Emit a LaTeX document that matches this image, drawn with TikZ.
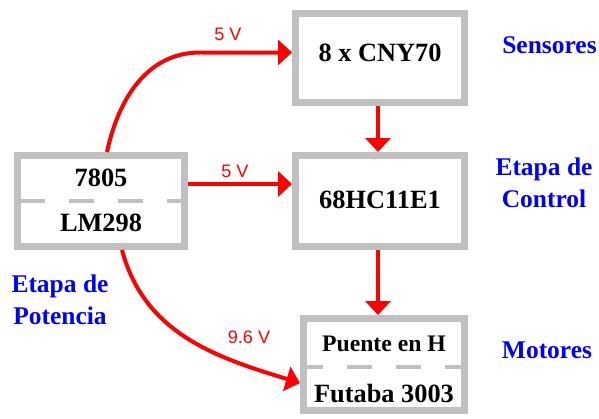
\documentclass[tikz,border=0pt]{standalone}
\usepackage{fontspec}
\setmainfont{Liberation Serif}
\setsansfont{Liberation Sans}
\usepackage{tikz}
\usetikzlibrary{arrows.meta}
\definecolor{boxgray}{RGB}{192,192,192}
\definecolor{labelblue}{RGB}{0,0,255}

\begin{document}
\begin{tikzpicture}[x=0.02cm,y=-0.02cm,
    block/.style={draw=boxgray,line width=0.14cm,fill=white,inner sep=0pt},
    divider/.style={boxgray,line width=0.08cm,dash pattern=on 0.5cm off 0.48cm},
    part/.style={font=\bfseries\fontsize{15}{17}\selectfont},
    stage/.style={text=labelblue,font=\bfseries\fontsize{14.5}{18.5}\selectfont,align=center},
    volt/.style={text=red,font=\sffamily\fontsize{10.3}{12}\selectfont},
    supply/.style={-{Triangle[length=0.28cm,width=0.5cm]},red,line width=0.08cm}]
    \useasboundingbox (0,0) rectangle (599,419);

    % bloques
    \node[block,minimum width=3.38cm,minimum height=1.78cm] (sens) at (380,58) {};
    \node[block,minimum width=3.38cm,minimum height=1.82cm] (ctrl) at (380,201) {};
    \node[block,minimum width=3.22cm,minimum height=1.84cm] (mot) at (384,364.5) {};
    \node[block,minimum width=3.34cm,minimum height=1.82cm] (pot) at (101,201) {};

    \draw [divider,dash phase=0.86cm] (pot.west |- 0,201) -- (pot.east |- 0,201);
    \draw [divider,dash phase=0.04cm] (mot.west |- 0,367) -- (mot.east |- 0,367);

    \node[part] (cny) at (380,52.5) {8 x CNY70};
    \node[part] (hc11) at (380,200) {68HC11E1};
    \node[part] (reg) at (101,178) {7805};
    \node[part] (lm) at (101,223) {LM298};
    \node[part,font=\bfseries\fontsize{13.5}{15}\selectfont] (puente) at (384,344) {Puente en H};
    \node[part] (futaba) at (384,393.5) {Futaba 3003};

    \node[stage] (lsens) at (549.5,45) {Sensores};
    \node[stage] (lctrl) at (544,183) {Etapa de\\Control};
    \node[stage] (lmot) at (547,350) {Motores};
    \node[stage] (lpot) at (60,300) {Etapa de\\Potencia};

    % flechas
    \draw [supply] ([xshift=0.12cm]pot.north) to[out=78,in=180] (200,52.5) -- ([yshift=0.11cm]sens.west);
    \draw [supply] ([yshift=0.34cm]pot.east) -- ([yshift=0.34cm]ctrl.west);
    \draw [supply] ([xshift=0.42cm]pot.south) to[out=-75,in=163] ([yshift=-0.37cm]mot.west);
    \draw [supply] ([xshift=-0.04cm]sens.south) -- ([xshift=-0.04cm]ctrl.north);
    \draw [supply] ([xshift=-0.04cm]ctrl.south) -- ([xshift=-0.04cm]ctrl.south |- mot.north);

    \node[volt] (v1) at (228,34.5) {5 V};
    \node[volt] (v2) at (235,171) {5 V};
    \node[volt] (v3) at (249,337.5) {9.6 V};
  \end{tikzpicture}
\end{document}
